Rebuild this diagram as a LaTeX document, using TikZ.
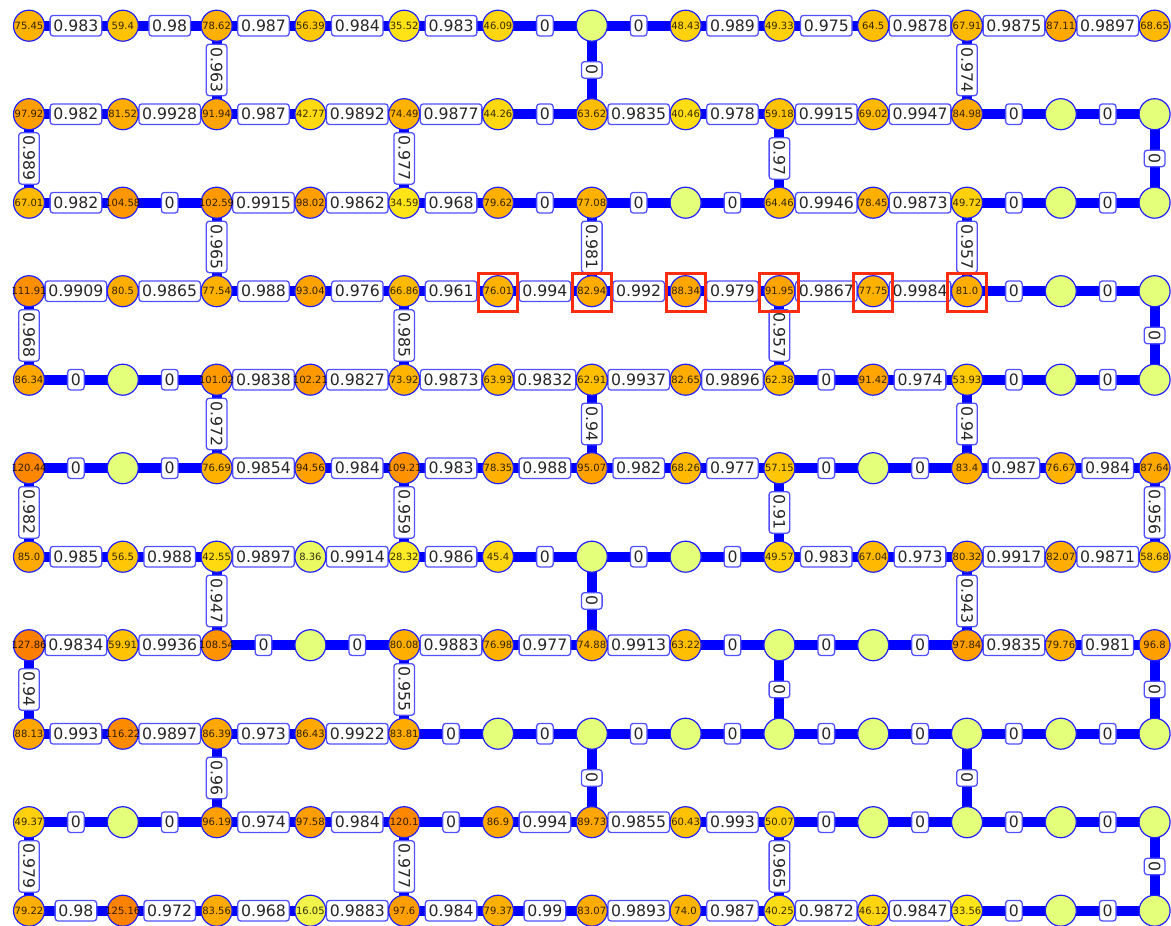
\documentclass[tikz,border=0pt]{standalone}
\usepackage{fontspec}
\setmainfont{DejaVu Sans}
\pgfdeclarelayer{edges}
\pgfdeclarelayer{labels}
\pgfsetlayers{edges,labels,main}
\definecolor{wis0}{RGB}{228,255,122}
\definecolor{wis1}{RGB}{255,232,26}
\definecolor{wis2}{RGB}{255,189,0}
\definecolor{wis3}{RGB}{255,160,0}
\definecolor{wis4}{RGB}{252,127,0}
\definecolor{lblue}{RGB}{80,80,255}
\definecolor{nblue}{RGB}{30,30,255}
\definecolor{sqred}{RGB}{250,45,15}
\tikzset{
  gnode/.style={circle, draw=nblue, line width=1.2pt, minimum size=31pt, inner sep=0pt,
    font=\fontsize{10}{12}\selectfont, text opacity=0.8},
  elab/.style={draw=lblue, fill=white, rounded corners=3pt, line width=1.3pt,
    inner xsep=3.3pt, inner ysep=4.6pt, text height=11.4pt, text depth=0pt,
    font=\fontsize{15.7}{18}\selectfont, text=black!85},
  vlab/.style={elab, rotate=-90},
  wire/.style={line width=10pt, draw=blue},
  hilite/.style={draw=sqred, line width=3pt, minimum width=39pt, minimum height=38pt, inner sep=0pt},
}
\begin{document}
\begin{tikzpicture}[x=1pt,y=-1pt]
\useasboundingbox (0,0) rectangle (1171,926);
% nodes
\foreach \r/\vals in {
 0/{75.45,59.4,78.62,56.39,35.52,46.09,0,48.43,49.33,64.5,67.91,87.11,68.65},
 1/{97.92,81.52,91.94,42.77,74.49,44.26,63.62,40.46,59.18,69.02,84.98,0,0},
 2/{67.01,104.58,102.59,98.02,34.59,79.62,77.08,0,64.46,78.45,49.72,0,0},
 3/{111.91,80.5,77.54,93.04,66.86,76.01,82.94,88.34,91.95,77.75,81.0,0,0},
 4/{86.34,0,101.02,102.21,73.92,63.93,62.91,82.65,62.38,91.42,53.93,0,0},
 5/{120.44,0,76.69,94.56,109.21,78.35,95.07,68.26,57.15,0,83.4,76.67,87.64},
 6/{85.0,56.5,42.55,8.36,28.32,45.4,0,0,49.57,67.04,80.32,82.07,58.68},
 7/{127.86,59.91,108.54,0,80.08,76.98,74.88,63.22,0,0,97.84,79.76,96.8},
 8/{88.13,116.22,86.39,86.43,83.81,0,0,0,0,0,0,0,0},
 9/{49.37,0,96.19,97.58,120.1,86.9,89.73,60.43,50.07,0,0,0,0},
 10/{79.22,125.16,83.56,16.05,97.6,79.37,83.07,74.0,40.25,46.12,33.56,0,0}}{
  \foreach \v [count=\c from 0] in \vals {
    \ifdim \v pt<0.001pt
      \colorlet{nc}{wis0}\def\lab{}
    \else
      \pgfmathsetmacro\wisT{min(3.999,\v/127.86*4)}
      \pgfmathtruncatemacro\wisK{\wisT}
      \pgfmathtruncatemacro\wisKn{\wisK+1}
      \pgfmathtruncatemacro\wisP{(\wisT-\wisK)*100}
      \colorlet{nc}{wis\wisKn!\wisP!wis\wisK}
      \let\lab\v
    \fi
    \node[gnode, fill=nc] (n-\r-\c) at ({29+93.8*\c},{25.7+88.5*\r}) {\makebox[0pt]{\lab}};
  }
}
% horizontal edges
\foreach \r/\labs in {
 0/{0.983,0.98,0.987,0.984,0.983,0,0,0.989,0.975,0.9878,0.9875,0.9897},
 1/{0.982,0.9928,0.987,0.9892,0.9877,0,0.9835,0.978,0.9915,0.9947,0,0},
 2/{0.982,0,0.9915,0.9862,0.968,0,0,0,0.9946,0.9873,0,0},
 3/{0.9909,0.9865,0.988,0.976,0.961,0.994,0.992,0.979,0.9867,0.9984,0,0},
 4/{0,0,0.9838,0.9827,0.9873,0.9832,0.9937,0.9896,0,0.974,0,0},
 5/{0,0,0.9854,0.984,0.983,0.988,0.982,0.977,0,0,0.987,0.984},
 6/{0.985,0.988,0.9897,0.9914,0.986,0,0,0,0.983,0.973,0.9917,0.9871},
 7/{0.9834,0.9936,0,0,0.9883,0.977,0.9913,0,0,0,0.9835,0.981},
 8/{0.993,0.9897,0.973,0.9922,0,0,0,0,0,0,0,0},
 9/{0,0,0.974,0.984,0,0.994,0.9855,0.993,0,0,0,0},
 10/{0.98,0.972,0.968,0.9883,0.984,0.99,0.9893,0.987,0.9872,0.9847,0,0}}{
  \foreach \l [count=\c from 0] in \labs {
    \pgfmathtruncatemacro\cn{\c+1}
    \begin{pgfonlayer}{edges}
      \draw[wire] (n-\r-\c.center) -- (n-\r-\cn.center);
    \end{pgfonlayer}
    \begin{pgfonlayer}{labels}
      \path (n-\r-\c.center) -- node[elab] (h-\r-\c) {\l} (n-\r-\cn.center);
    \end{pgfonlayer}
  }
}
% vertical edges
\foreach \c/\r/\l in {2/0/0.963, 6/0/0, 10/0/0.974, 0/1/0.989, 4/1/0.977, 8/1/0.97, 12/1/0,
  2/2/0.965, 6/2/0.981, 10/2/0.957, 0/3/0.968, 4/3/0.985, 8/3/0.957, 12/3/0,
  2/4/0.972, 6/4/0.94, 10/4/0.94, 0/5/0.982, 4/5/0.959, 8/5/0.91, 12/5/0.956,
  2/6/0.947, 6/6/0, 10/6/0.943, 0/7/0.94, 4/7/0.955, 8/7/0, 12/7/0,
  2/8/0.96, 6/8/0, 10/8/0, 0/9/0.979, 4/9/0.977, 8/9/0.965, 12/9/0}{
  \pgfmathtruncatemacro\rn{\r+1}
  \begin{pgfonlayer}{edges}
    \draw[wire] (n-\r-\c.center) -- (n-\rn-\c.center);
  \end{pgfonlayer}
  \begin{pgfonlayer}{labels}
    \path (n-\r-\c.center) -- node[vlab] (v-\r-\c) {\l} (n-\rn-\c.center);
  \end{pgfonlayer}
}
% highlighted nodes
\foreach \c in {5,...,10}{
  \node[hilite] (hl-\c) at ([yshift=-1.5pt]n-3-\c.center) {};
}
\end{tikzpicture}
\end{document}
